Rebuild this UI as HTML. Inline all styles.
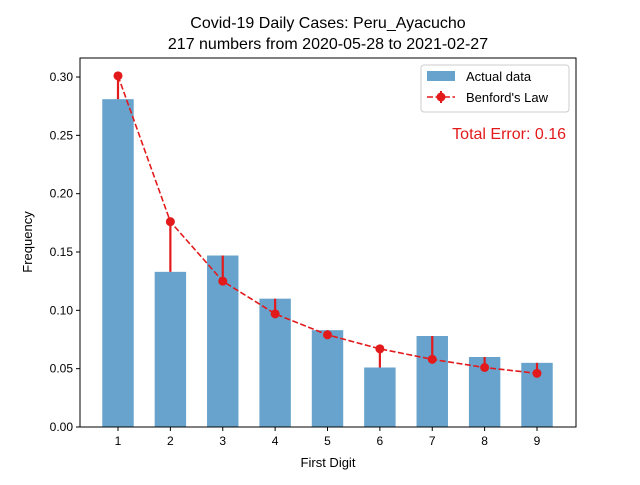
<!DOCTYPE html>
<html><head><meta charset="utf-8"><style>
html,body{margin:0;padding:0;background:#fff;}
svg text{font-family:"Liberation Sans","DejaVu Sans",sans-serif;fill:#000;}
</style></head><body>
<svg id="chart" width="640" height="480" xmlns="http://www.w3.org/2000/svg">
<rect width="640" height="480" fill="#fff"/>
<text x="328" y="28" font-size="16" text-anchor="middle">Covid-19 Daily Cases: Peru_Ayacucho</text>
<text x="328" y="49" font-size="16" text-anchor="middle">217 numbers from 2020-05-28 to 2021-02-27</text>
<g id="plot"></g>
</svg>
<script>
const digits=[1,2,3,4,5,6,7,8,9];
const actual=[0.281,0.133,0.147,0.110,0.083,0.051,0.078,0.060,0.055];
const benford=[0.301,0.176,0.125,0.097,0.079,0.067,0.058,0.051,0.046];
const yTicks=[0,0.05,0.10,0.15,0.20,0.25,0.30];
const yTickLabels=["0.00","0.05","0.10","0.15","0.20","0.25","0.30"];
const totalError="0.16";
const L=80,R=576,T=58,B=427;
const x=d=>118+(d-1)*(537-118)/8;
const y=v=>B-v*(B-T)/0.3163;
const ns="http://www.w3.org/2000/svg";
const g=document.getElementById('plot');
function el(t,a,txt){const e=document.createElementNS(ns,t);for(const k in a)e.setAttribute(k,a[k]);if(txt!=null)e.textContent=txt;g.appendChild(e);return e;}
const bw=0.6*(537-118)/8;
digits.forEach((d,i)=>{
 const r=el('rect',{x:x(d)-bw/2,y:y(actual[i]),width:bw,height:B-y(actual[i]),fill:'#1f77b4','fill-opacity':0.68});
 
 
});
digits.forEach((d,i)=>{
 const l=el('line',{x1:x(d),x2:x(d),y1:y(actual[i]),y2:y(benford[i]),stroke:'#e31a1c','stroke-width':2.2});
 
 
});
const p=el('polyline',{points:digits.map((d,i)=>x(d)+','+y(benford[i])).join(' '),fill:'none',stroke:'#e31a1c','stroke-width':1.6,'stroke-dasharray':'6,2.5'});


digits.forEach((d,i)=>{
 const c=el('circle',{cx:x(d),cy:y(benford[i]),r:4.5,fill:'#e31a1c'});
 
 
});
const fr=el('rect',{x:L,y:T,width:R-L,height:B-T,fill:'none',stroke:'#000','stroke-width':1});


yTicks.forEach((v,i)=>{
 el('line',{x1:L-4,x2:L,y1:y(v),y2:y(v),stroke:'#000'});
 const t=el('text',{x:L-7,y:y(v)+4,'font-size':12,'text-anchor':'end'},yTickLabels[i]);
 
 
});
digits.forEach(d=>{
 el('line',{x1:x(d),x2:x(d),y1:B,y2:B+4,stroke:'#000'});
 const t=el('text',{x:x(d),y:B+18,'font-size':12,'text-anchor':'middle'},String(d));
 
 
});
const xt=el('text',{x:328,y:467,'font-size':13,'text-anchor':'middle'},'First Digit');


const yt=el('text',{x:32,y:242,'font-size':13,'text-anchor':'middle',transform:'rotate(-90 32 242)'},'Frequency');


const lg=el('rect',{x:421,y:65,width:148,height:47,fill:'#fff',stroke:'#ccc',rx:3});


el('rect',{x:427,y:71,width:28,height:10,fill:'#1f77b4','fill-opacity':0.68});
const l1=el('text',{x:466,y:81,'font-size':13},'Actual data');


el('line',{x1:427,x2:455,y1:97,y2:97,stroke:'#e31a1c','stroke-width':1.6,'stroke-dasharray':'6,2.5'});
el('line',{x1:441,x2:441,y1:91,y2:103,stroke:'#e31a1c','stroke-width':2});
el('circle',{cx:441,cy:97,r:4.5,fill:'#e31a1c'});
const l2=el('text',{x:466,y:102,'font-size':13},"Benford's Law");


const te=el('text',{x:566,y:139,'font-size':16,'text-anchor':'end',style:'fill:#e31a1c'},'Total Error: '+totalError);


</script>
</body></html>
